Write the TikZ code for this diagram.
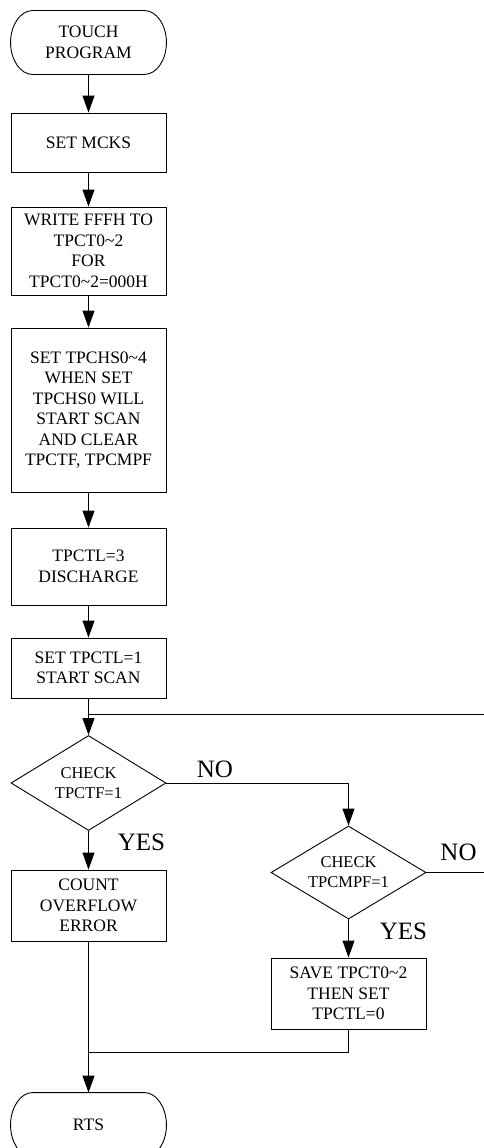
\documentclass[tikz,border=0pt]{standalone}
\usepackage{fontspec}
\setmainfont{Liberation Serif}
\usetikzlibrary{shapes.geometric,arrows.meta}
\newcommand\termoutline[1]{%
  \draw ([xshift=22pt]#1.north west) -- ([xshift=-22pt]#1.north east)
    .. controls +(12.15,0) and +(0,-17.4) .. (#1.east)
    .. controls +(0,17.4) and +(12.15,0) .. ([xshift=-22pt]#1.south east)
    -- ([xshift=22pt]#1.south west)
    .. controls +(-12.15,0) and +(0,17.4) .. (#1.west)
    .. controls +(0,-17.4) and +(-12.15,0) .. ([xshift=22pt]#1.north west) -- cycle;}
\begin{document}
\begin{tikzpicture}[x=1pt,y=-1pt,line width=0.9pt,
  box/.style={draw,rectangle,minimum width=155pt,inner sep=0pt,align=center,font=\fontsize{17.5}{20.5}\selectfont},
  term/.style={rectangle,minimum width=155pt,minimum height=63pt,inner sep=0pt,align=center,font=\fontsize{17.5}{20.5}\selectfont},
  dia/.style={draw,diamond,minimum width=155pt,minimum height=95pt,inner sep=0pt},
  diatext/.style={align=center,inner sep=0pt,font=\fontsize{16.5}{20}\selectfont},
  lab/.style={inner sep=0pt,font=\fontsize{25}{28}\selectfont},
  arr/.style={-{Triangle[length=17pt,width=12pt]}}
]
\useasboundingbox (0,0) rectangle (484,1148);
\clip (0,0) rectangle (484,1148);

\node[term] (start) at (88.5,42.5) {TOUCH\\PROGRAM};
\termoutline{start}
\node[box,minimum height=59pt] (mcks) at (88.5,142.5) {SET MCKS};
\node[box,minimum height=88pt] (write) at (88.5,251) {WRITE FFFH TO\\TPCT0\textasciitilde2\\FOR\\TPCT0\textasciitilde2=000H};
\node[box,minimum height=164pt] (tpchs) at (88.5,410) {SET TPCHS0\textasciitilde4\\WHEN SET\\TPCHS0 WILL\\START SCAN\\AND CLEAR\\TPCTF, TPCMPF};
\node[box,minimum height=77pt] (tpctl3) at (88.5,566.5) {TPCTL=3\\DISCHARGE};
\node[box,minimum height=60pt] (tpctl1) at (88.5,668) {SET TPCTL=1\\START SCAN};
\coordinate (j) at (88.5,714);

\node[dia] (d1) at (88.5,783) {};
\node[diatext] (d1t) at (d1) {CHECK\\TPCTF=1};
\node[box,minimum height=71pt] (count) at (88.5,905.5) {COUNT\\OVERFLOW\\ERROR};

\node[dia,minimum height=93pt] (d2) at (348.5,872.5) {};
\node[diatext] (d2t) at (d2) {CHECK\\TPCMPF=1};
\node[box,minimum height=71pt] (save) at (348.5,993.5) {SAVE TPCT0\textasciitilde2\\THEN SET\\TPCTL=0};
\coordinate (m) at (88.5,1052);

\node[term,minimum height=64pt] (rts) at (88.5,1125) {RTS};
\termoutline{rts}

\node[lab] (no1) at (215,769.5) {NO};
\node[lab] (yes1) at (141.5,842) {YES};
\node[lab] (no2) at (458.5,852) {NO};
\node[lab] (yes2) at (403.5,931.5) {YES};

\coordinate (loopb) at (495,872.5);
\coordinate (loopt) at (495,714);

\draw[arr] (start) -- (mcks);
\draw[arr] (mcks) -- (write);
\draw[arr] (write) -- (tpchs);
\draw[arr] (tpchs) -- (tpctl3);
\draw[arr] (tpctl3) -- (tpctl1);
\draw[arr] (tpctl1) -- (d1);
\draw (d2.east) -- (loopb) -- (loopt) -- (j);
\draw[arr] (d1.east) -| (d2.north);
\draw[arr] (d1) -- (count);
\draw[arr] (d2) -- (save);
\draw (save.south) |- (m);
\draw[arr] (count) -- (rts);
\end{tikzpicture}
\end{document}
